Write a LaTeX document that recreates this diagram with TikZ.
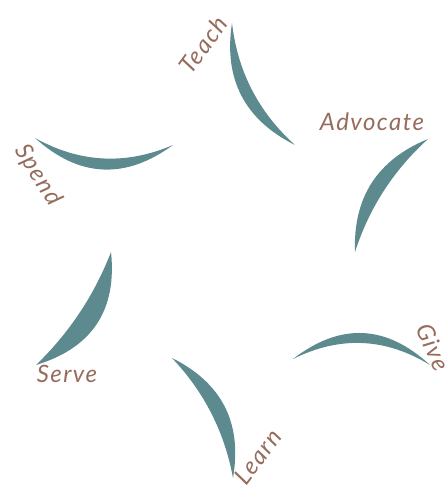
\documentclass[tikz,border=0pt]{standalone}
\usepackage{fontspec}
\setmainfont{Lato}
\newfontfamily\lblfont[LetterSpace=6]{Lato}
\definecolor{moonteal}{RGB}{92,138,142}
\definecolor{lblbrown}{RGB}{150,108,92}

\begin{document}
\begin{tikzpicture}[x=0.75pt,y=0.75pt,yscale=-1,
  moon/.style={fill=moonteal},
  lbl/.style={text=lblbrown, inner sep=0pt, font=\lblfont\itshape\fontsize{18}{21}\selectfont}]
\useasboundingbox (0,0) rectangle (446,493);

%Crescent (Teach)
\fill[moon] (232,23) .. controls (223.4,79.0) and (244.4,119.6) .. (295,145) .. controls (258.6,112.2) and (237.6,71.6) .. (232,23) -- cycle ;
%Crescent (Advocate)
\fill[moon] (428,139) .. controls (377.4,159.7) and (353.0,197.3) .. (355,252) .. controls (369.2,207.8) and (393.6,170.2) .. (428,139) -- cycle ;
%Crescent (Give)
\fill[moon] (293,359) .. controls (340.4,322.4) and (386.0,324.4) .. (430,365) .. controls (385.4,337.7) and (339.8,335.7) .. (293,359) -- cycle ;
%Crescent (Learn)
\fill[moon] (172,358) .. controls (222.0,382.9) and (242.4,422.9) .. (233,478) .. controls (224.6,432.0) and (204.2,392.0) .. (172,358) -- cycle ;
%Crescent (Serve)
\fill[moon] (111,252) .. controls (117.1,310.3) and (92.1,347.9) .. (36,365) .. controls (69.3,332.8) and (94.3,295.2) .. (111,252) -- cycle ;
%Crescent (Spend)
\fill[moon] (35,138) .. controls (79.1,177.6) and (125.1,180.0) .. (173,145) .. controls (125.8,165.3) and (79.8,162.9) .. (35,138) -- cycle ;

% Text Node
\draw (203,45) node [lbl, rotate=54] (teach) {Teach};
% Text Node
\draw (372,122) node [lbl] (advocate) {Advocate};
% Text Node
\draw (433,347) node [lbl, rotate=-66] (give) {Give};
% Text Node
\draw (258,457) node [lbl, rotate=53] (learn) {Learn};
% Text Node
\draw (67,374) node [lbl] (serve) {Serve};
% Text Node
\draw (38,175) node [lbl, rotate=-58] (spend) {Spend};
\end{tikzpicture}
\end{document}
